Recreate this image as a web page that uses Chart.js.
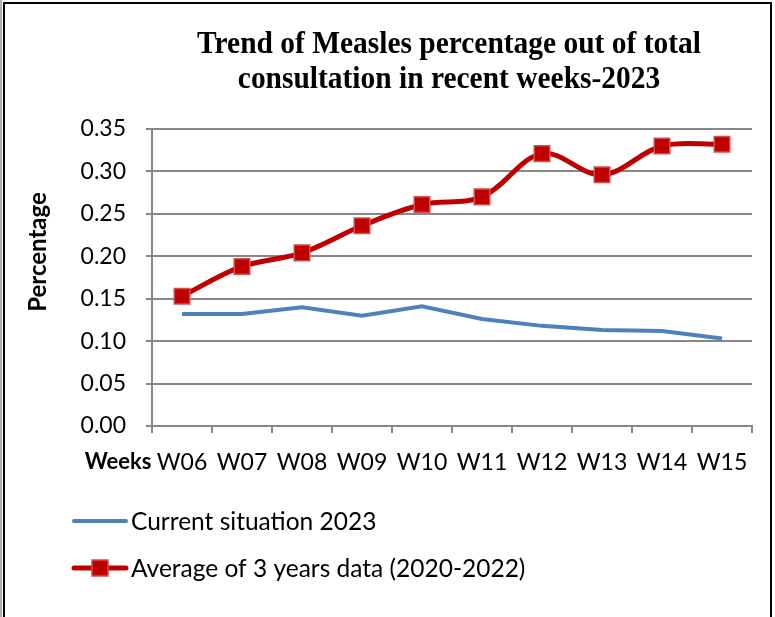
<!DOCTYPE html>
<html>
<head>
<meta charset="utf-8">
<script src="https://cdn.jsdelivr.net/npm/chart.js@4/dist/chart.umd.min.js"></script>
<style>
  body { margin: 0; background: #fff; }
  #wrap { position: relative; width: 775px; height: 617px; overflow: hidden; }
  #frame { position: absolute; left: 3px; top: 2px; width: 765px; height: 700px;
           border: 2px solid #000; border-bottom: none; }
  #edge { position: absolute; left: 0; top: 0; width: 2px; height: 617px; background: #b0b0b0; }
</style>
</head>
<body>
<div id="wrap">
  <canvas id="chart" width="775" height="617"></canvas>
  <div id="edge"></div>
  <div id="frame"></div>
</div>
<script>
// chart data
const weeks = ['W06', 'W07', 'W08', 'W09', 'W10', 'W11', 'W12', 'W13', 'W14', 'W15'];
const current2023 = [0.132, 0.132, 0.140, 0.130, 0.141, 0.126, 0.118, 0.113, 0.112, 0.103];
const avg3Years = [0.153, 0.188, 0.204, 0.236, 0.261, 0.270, 0.321, 0.296, 0.330, 0.332];
const seriesNames = ['Current situation 2023', 'Average of 3 years data (2020-2022)'];
const titleLines = ['Trend of Measles percentage out of total', 'consultation in recent weeks-2023'];
const yTitle = 'Percentage';
const xTitle = 'Weeks';

const gridColor = '#888888';
const sans = 'Lato';

// title, axis names and legend are drawn by hand (Excel-like layout)
const extraText = {
    id: 'extraText',
    afterDraw(chart) {
        const ctx = chart.ctx;
        ctx.save();
        ctx.fillStyle = '#000';
        ctx.textAlign = 'center';
        ctx.textBaseline = 'middle';
        // title is a bit narrow in the original, squeeze it slightly
        ctx.save();
        ctx.translate(449, 0);
        ctx.scale(0.95, 1);
        ctx.font = 'bold 31px "Liberation Serif"';
        titleLines.forEach((t, i) => ctx.fillText(t, 0, 45 + i * 35));
        ctx.restore();

        ctx.font = 'bold 22px ' + sans;
        ctx.fillText(xTitle, 118, 462);

        ctx.save();
        ctx.translate(38, 252);
        ctx.rotate(-Math.PI / 2);
        ctx.font = 'bold 24px ' + sans;
        ctx.fillText(yTitle, 0, 0);
        ctx.restore();

        // legend
        const ds = chart.data.datasets;
        const rows = [521, 568];
        ctx.textAlign = 'left';
        ctx.font = '24.5px ' + sans;
        ds.forEach((d, i) => {
            const y = rows[i];
            ctx.strokeStyle = d.borderColor;
            ctx.lineWidth = d.borderWidth;
            ctx.lineCap = 'round';
            ctx.beginPath();
            ctx.moveTo(74, y);
            ctx.lineTo(126, y);
            ctx.stroke();
            if (d.pointRadius > 0) {
                ctx.fillStyle = d.backgroundColor;
                ctx.fillRect(92, y - 8, 16, 16);
                ctx.strokeStyle = d.pointBorderColor;
                ctx.lineWidth = d.pointBorderWidth;
                ctx.strokeRect(92, y - 8, 16, 16);
            }
            ctx.fillStyle = '#000';
            ctx.fillText(d.label, 131, y + 1);
        });
        ctx.restore();
    }
};

new Chart(document.getElementById('chart'), {
    type: 'line',
    data: {
        labels: weeks,
        datasets: [{
            label: seriesNames[0],
            data: current2023,
            borderColor: '#4F81BD',
            backgroundColor: '#4F81BD',
            borderWidth: 4,
            pointRadius: 0,
            tension: 0
        }, {
            label: seriesNames[1],
            data: avg3Years,
            borderColor: '#C00000',
            backgroundColor: '#C00000',
            borderWidth: 5,
            tension: 0.35,
            pointStyle: 'rect',
            pointRadius: 11,
            pointHoverRadius: 11,
            pointBorderColor: '#D24F4F',
            pointBorderWidth: 1.5
        }]
    },
    options: {
        responsive: false,
        devicePixelRatio: 1,
        animation: false,
        layout: { padding: { left: 0, right: 23, top: 129, bottom: 0 } },
        plugins: {
            legend: { display: false },
            title: { display: false },
            tooltip: { enabled: false }
        },
        scales: {
            x: {
                offset: true,
                grid: { offset: true, drawOnChartArea: false, drawTicks: true, tickLength: 7, color: gridColor, lineWidth: 2 },
                border: { color: gridColor, width: 2 },
                ticks: { color: '#000', font: { family: sans, size: 23 }, padding: 16, maxRotation: 0, autoSkip: false },
                afterFit(s) { s.height = 191; }
            },
            y: {
                min: 0,
                max: 0.35,
                grid: { color: gridColor, lineWidth: 2, tickLength: 6 },
                border: { color: gridColor, width: 2 },
                ticks: {
                    stepSize: 0.05,
                    color: '#000',
                    font: { family: sans, size: 23 },
                    padding: 20,
                    callback: v => v.toFixed(2)
                },
                afterFit(s) { s.width = 152; }
            }
        }
    },
    plugins: [extraText]
});
</script>
</body>
</html>
